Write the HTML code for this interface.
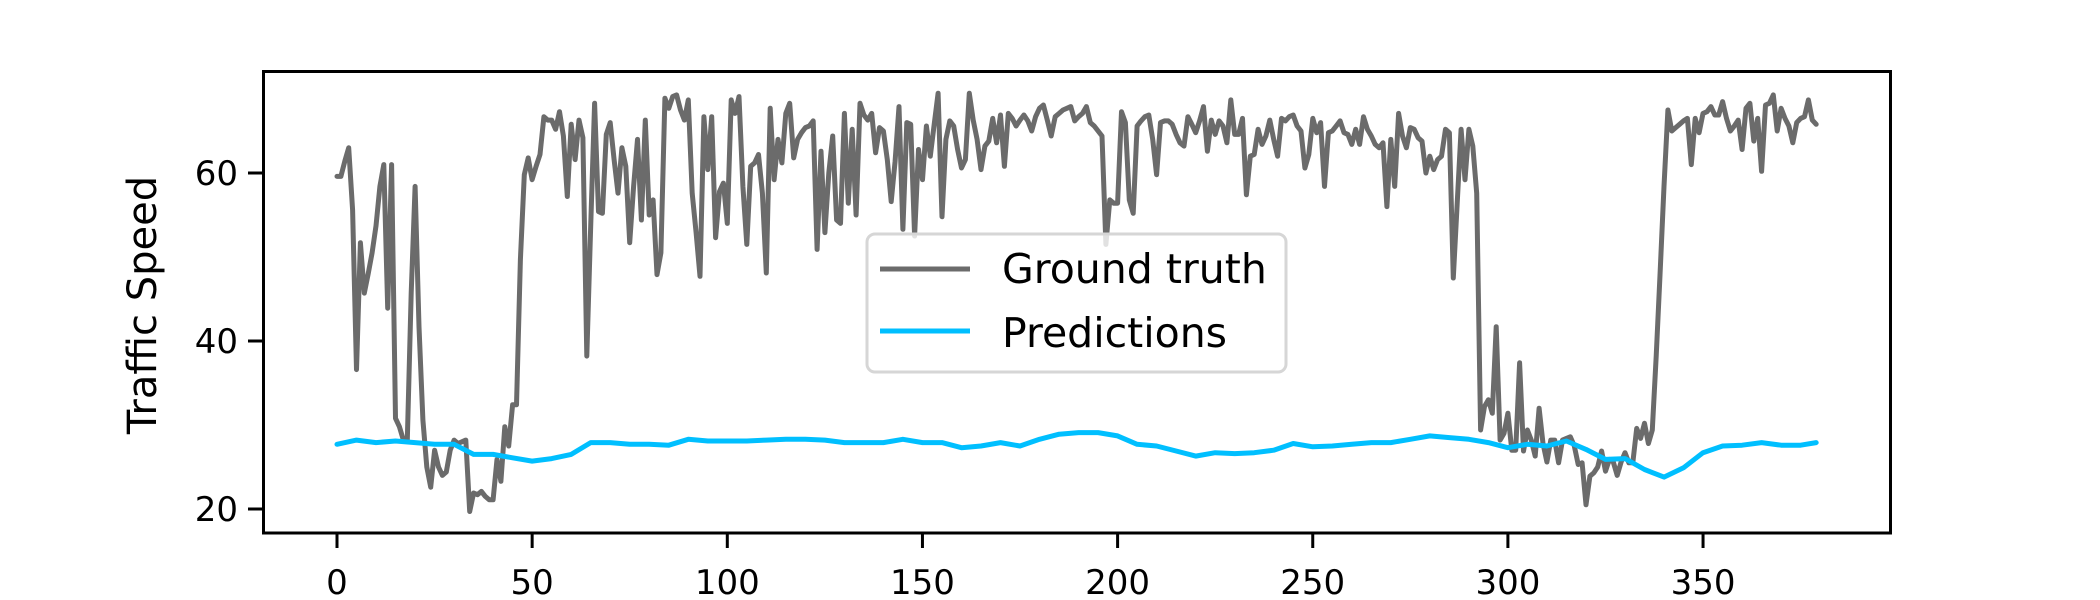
<!DOCTYPE html>
<html><head><meta charset="utf-8"><style>
html,body{margin:0;padding:0;background:#fff;}
svg{display:block;}
text{font-family:"DejaVu Sans","Liberation Sans",sans-serif;fill:#000;}
</style></head><body>
<svg id="chart" width="2100" height="600" viewBox="0 0 2100 600" xmlns="http://www.w3.org/2000/svg">
<rect width="2100" height="600" fill="#fff"/>
<g id="marks"></g>
<g id="axes"></g>
<text x="0" y="0" transform="translate(156,305) rotate(-90)" text-anchor="middle" font-size="40">Traffic Speed</text>
<g>
<rect x="867" y="234" width="419" height="138" rx="8" fill="#fff" fill-opacity="0.8" stroke="#d6d6d6" stroke-width="3"/>
<line x1="880" y1="269" x2="970" y2="269" stroke="#6b6b6b" stroke-width="5"/>
<text x="1002" y="283" font-size="41">Ground truth</text>
<line x1="880" y1="331" x2="970" y2="331" stroke="#00bfff" stroke-width="5"/>
<text x="1002" y="347" font-size="41">Predictions</text>
</g>
</svg>
<script>
const groundTruth = [
59.6,59.6,61.4,63,55.6,36.6,51.7,45.7,48,50.5,53.7,58.4,61,43.9,61,30.8,29.8,28.2,28.2,45.7,58.4,41.7,30.6,25,22.6,27,25,24,24.4,27,
28.2,27.8,28,28.2,19.7,21.9,21.7,22.1,21.5,21.1,21.1,25.9,23.3,29.8,27.5,32.4,32.4,49.7,59.8,61.8,59.2,60.8,62.2,66.7,66.3,66.3,65.2,67.3,64.4,57.2,
65.8,61.6,66.3,64.2,38.2,53.7,68.3,55.4,55.2,64.6,66,61.6,57.6,63,60.8,51.7,58.4,64,54.4,66.3,55,56.8,47.9,50.5,68.9,67.7,69.1,69.3,67.5,66.3,
68.7,57.6,52.9,47.7,66.7,60.4,66.7,52.3,57.8,58.8,54,68.7,67.1,69.1,58.4,51.5,60.8,61.2,62.2,57.6,48.1,67.7,59.2,64,61.2,67.1,68.3,61.8,64,64.8,
65.4,65.6,66.2,50.9,62.6,52.9,60,64.4,54.4,54,67.1,56.4,65.2,55,68.3,66.9,66.3,67.1,62.4,65.4,65,61.6,56.6,61.4,67.9,53.3,66,65.8,52.5,62.8,
59.2,65.6,62,65.8,69.5,54.8,64,66.2,65.6,62.8,60.6,61.6,69.5,66.3,64,60.4,63.2,63.8,66.5,63.6,66.9,60.8,67.1,66.5,65.6,66.3,66.9,66.2,65,66.7,
67.7,68.1,66.3,64.4,66.7,67.1,67.5,67.7,67.9,66.2,66.7,67.1,67.9,66,65.6,65,64.4,51.5,56.8,56.4,56.4,67.3,66,56.8,55.2,65.6,66.2,66.7,66.9,64,
59.8,66,66.2,66.2,65.8,64.6,63.6,63.2,66.7,65.8,64.8,66.2,67.9,62.6,66.3,64.6,66.2,65.6,63.6,68.7,64.6,64.6,66.5,57.4,62,62.2,65.2,63.4,64.4,66.3,
64,62,66.5,66.2,66.7,66.9,65.6,65,60.6,62.2,66.5,64.8,66,58.4,64.8,65,65.6,66.2,64.8,64.6,63.4,65.2,63.4,66.7,65.2,64.4,63.4,63,63.6,56,
64,58.4,67.1,64.4,63,65.4,65.2,64.2,63.8,60,62,60.4,61.6,62,65.2,64.8,47.5,56.4,65.2,59.2,65.2,63.2,57.6,29.4,32.2,33,31.4,41.7,28.2,29,
31.4,27,27,37.4,26.9,29.4,28.2,26.3,32,27.8,25.6,28.2,28.2,25.5,28.2,28.4,28.6,27.5,25.3,25.5,20.5,23.9,24.3,25,26.9,24.5,25.9,25.6,24,25.6,
26.7,25.5,25.5,29.6,28.4,30.2,27.8,29.4,38.2,48.1,58.4,67.5,65,65.4,65.8,66.2,66.5,61,66.5,64.8,67.1,67.3,67.9,66.9,66.9,68.5,66.5,65,65.6,66.3,
62.8,67.7,68.3,63.8,66.5,60.2,68.1,68.3,69.3,65,67.7,66.5,65.6,63.6,66,66.5,66.7,68.7,66.3,65.8
];
const predIndex = [0,5,10,15,20,25,30,35,40,45,50,55,60,65,70,75,80,85,90,95,100,105,110,115,120,125,130,135,140,145,150,155,160,165,170,175,180,185,190,195,200,205,210,215,220,225,230,235,240,245,250,255,260,265,270,275,280,285,290,295,300,305,310,315,320,325,330,335,340,345,350,355,360,365,370,375,379];
const predictions = [27.7,28.2,27.9,28.1,27.9,27.7,27.7,26.5,26.5,26.1,25.7,26,26.5,27.9,27.9,27.7,27.7,27.6,28.3,28.1,28.1,28.1,28.2,28.3,28.3,28.2,27.9,27.9,27.9,28.3,27.9,27.9,27.3,27.5,27.9,27.5,28.3,28.9,29.1,29.1,28.7,27.7,27.5,26.9,26.3,26.7,26.6,26.7,27,27.8,27.4,27.5,27.7,27.9,27.9,28.3,28.7,28.5,28.3,27.9,27.3,27.7,27.5,28.1,27.1,25.9,26,24.7,23.8,24.9,26.7,27.5,27.6,27.9,27.6,27.6,27.9];
const xTicks = [0,50,100,150,200,250,300,350];
const yTicks = [20,40,60];

const NS = "http://www.w3.org/2000/svg";
const X0 = 337, XS = 3.903;
function xScale(i){ return X0 + i * XS; }
function yScale(v){ return 509 - (v - 20) * 8.4; }
function mk(tag, attrs){ const e = document.createElementNS(NS, tag); for (const k in attrs) e.setAttribute(k, attrs[k]); return e; }

const marks = document.getElementById('marks');
const axes = document.getElementById('axes');

let d1 = groundTruth.map((v,i)=>(i?'L':'M')+xScale(i).toFixed(1)+','+yScale(v).toFixed(1)).join('');
const gt = mk('path', {d:d1, fill:'none', stroke:'#6b6b6b', 'stroke-width':5, 'stroke-linejoin':'round', 'stroke-linecap':'round'});


marks.appendChild(gt);

let d2 = predictions.map((v,i)=>(i?'L':'M')+xScale(predIndex[i]).toFixed(1)+','+yScale(v).toFixed(1)).join('');
const pr = mk('path', {d:d2, fill:'none', stroke:'#00bfff', 'stroke-width':5, 'stroke-linejoin':'round', 'stroke-linecap':'round'});


marks.appendChild(pr);

const frame = mk('rect', {x:263.5, y:71.5, width:1627, height:461.5, fill:'none', stroke:'#000', 'stroke-width':3});


axes.appendChild(frame);

xTicks.forEach(t=>{
  const x = xScale(t);
  const tk = mk('line', {x1:x, y1:533, x2:x, y2:548, stroke:'#000', 'stroke-width':3});
  
  
  axes.appendChild(tk);
  const lb = mk('text', {x:x, y:594, 'text-anchor':'middle', 'font-size':34});
  lb.textContent = t;
  
  
  axes.appendChild(lb);
});
yTicks.forEach(t=>{
  const y = yScale(t);
  const tk = mk('line', {x1:248, y1:y, x2:263, y2:y, stroke:'#000', 'stroke-width':3});
  
  
  axes.appendChild(tk);
  const lb = mk('text', {x:238, y:y+12, 'text-anchor':'end', 'font-size':34});
  lb.textContent = t;
  
  
  axes.appendChild(lb);
});
</script>
</body></html>
